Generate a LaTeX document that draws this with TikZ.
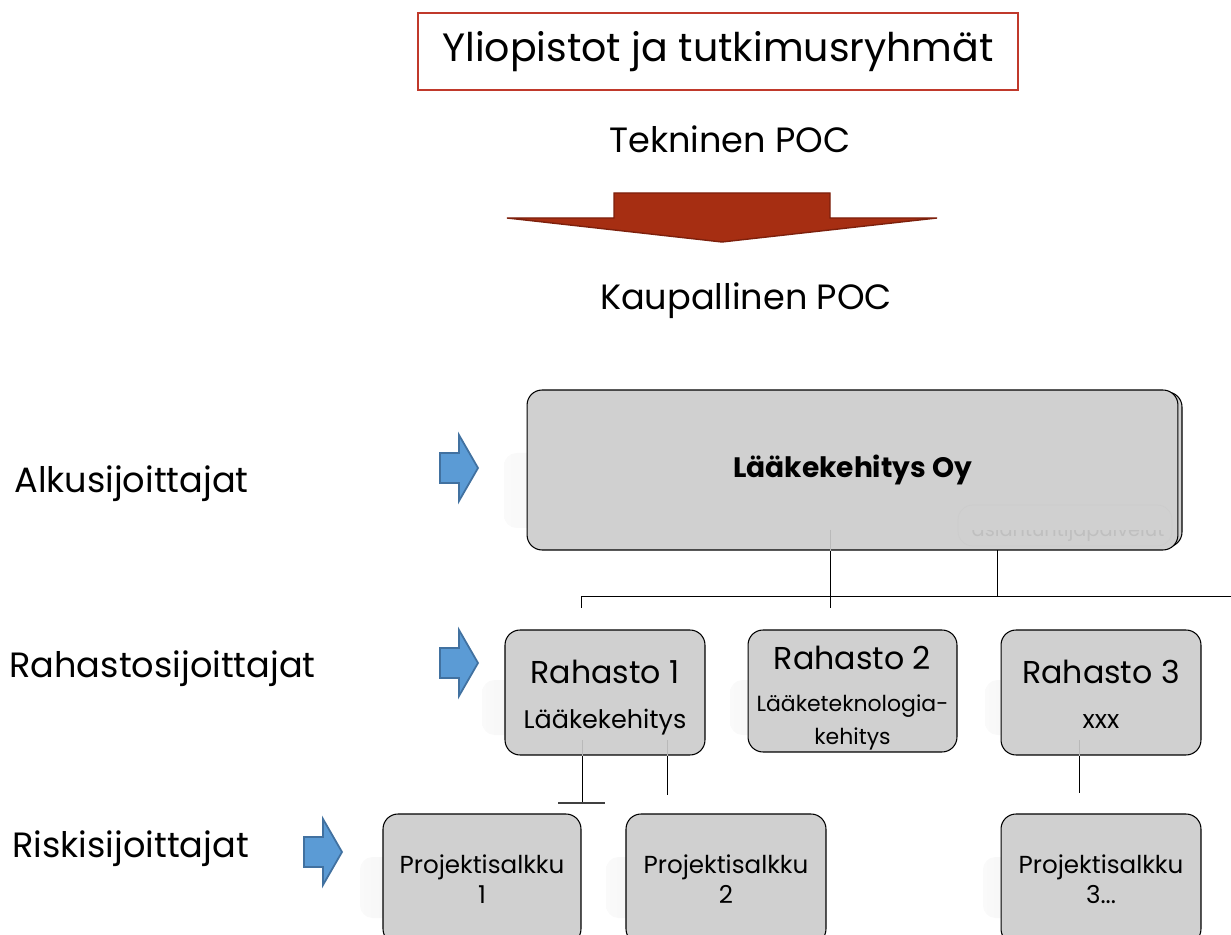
\documentclass[tikz,border=0pt]{standalone}
\usepackage{fontspec}
\setmainfont{Poppins}
\usetikzlibrary{positioning, calc}

\definecolor{boxgray}{RGB}{208,208,208}
\definecolor{titlered}{RGB}{192,57,43}
\definecolor{arrowred}{RGB}{166,46,18}
\definecolor{arrowedge}{RGB}{125,32,12}
\definecolor{arrowblue}{RGB}{91,155,213}
\definecolor{blueedge}{RGB}{65,113,160}

\begin{document}
\begin{tikzpicture}[x=0.02cm, y=-0.02cm,
  box/.style={draw, rounded corners=0.3cm, fill=boxgray, align=center, line width=0.6pt, inner sep=0pt},
  ghost/.style={rounded corners=0.25cm, left color=gray!4, right color=gray!24},
  bluearrow/.style={fill=arrowblue, draw=blueedge, line width=1pt},
  rarrow/.pic={\path[bluearrow] (0,-15) -- (19,-15) -- (19,-33) -- (38,0) -- (19,33) -- (19,15) -- (0,15) -- cycle;},
  lbl/.style={anchor=west, inner sep=0pt, font=\fontsize{20}{24}\selectfont},
  conn/.style={line width=0.5pt},
  faint/.style={line width=0.5pt, gray!55},
]
\useasboundingbox (0,0) rectangle (1231,935);
\clip (0,0) rectangle (1231,935);

% top part
\node[draw=titlered, line width=1.5pt, minimum width=12cm, minimum height=1.54cm, inner sep=0pt,
  font=\fontsize{22.5}{27}\selectfont] (yo) at (718,51.5) {Yliopistot ja tutkimusryhmät};
\node[font=\fontsize{20}{24}\selectfont, inner sep=0pt] (tek) at (730,139) {Tekninen POC};
\path[fill=arrowred, draw=arrowedge, line width=0.8pt]
  (507,218) -- (614,218) -- (614,193) -- (830,193) -- (830,218) -- (937,218) -- (722,242) -- cycle;
\node[font=\fontsize{20}{24}\selectfont, inner sep=0pt] (kaup) at (746,301) {Kaupallinen POC};

% left labels and arrows
\node[lbl] (alku) at (14,484) {Alkusijoittajat};
\node[lbl] (rahs) at (9,669) {Rahastosijoittajat};
\node[lbl] (risk) at (12,849) {Riskisijoittajat};
\pic at (440,468) {rarrow};
\pic at (440,663) {rarrow};
\pic at (304,852) {rarrow};

% shadows
\path[ghost] (504,453) rectangle (900,528);
\path[ghost] (482,680) rectangle (690,735);
\path[ghost] (730,680) rectangle (930,735);
\path[ghost] (985,680) rectangle (1180,735);
\path[ghost] (360,857) rectangle (560,918);
\path[ghost] (606,857) rectangle (800,918);
\path[ghost] (983,857) rectangle (1180,918);

% connectors
\coordinate (tapA) at (830,530); \coordinate (tapB) at (830,608);
\coordinate (tapC) at (997,550); \coordinate (busC) at (997,596);
\coordinate (busL) at (581,596); \coordinate (busR) at (1231,596); \coordinate (busD) at (581,608);
\coordinate (r1a) at (582,740); \coordinate (r1b) at (582,803);
\coordinate (capL) at (558,803); \coordinate (capR) at (605,803);
\coordinate (r1c) at (667,740); \coordinate (r1d) at (667,795);
\coordinate (r3a) at (1079,740); \coordinate (r3b) at (1079,793);
\draw[conn] (tapA) -- (tapB);
\draw[conn] (tapC) -- (busC);
\draw[conn] (busD) -- (busL) -- (busR);
\draw[conn] (r1a) -- (r1b);
\draw[line width=1.5pt, black!75] (capL) -- (capR);
\draw[conn] (r1c) -- (r1d);
\draw[conn] (r3a) -- (r3b);

% boxes
\draw[rounded corners=0.3cm, fill=boxgray, line width=0.6pt] (532,392) rectangle (1182,547);
\node[box, minimum width=13.02cm, minimum height=3.2cm, font=\bfseries\fontsize{16}{19}\selectfont] (oy) at (852.5,470) {Lääkekehitys Oy};
\begin{scope}
  \clip (950,531) rectangle (1180,552);
  \node[text=gray!50, font=\fontsize{11}{13}\selectfont] (asi) at (1068,532) {asiantuntijapalvelut};
\end{scope}
\draw[rounded corners=0.3cm, draw=gray!40] (958,505) rectangle (1172,546);

\node[box, minimum width=4cm, minimum height=2.5cm] (r1) at (605,692.5)
  {{\fontsize{18}{22}\selectfont Rahasto 1}\\[14pt]{\fontsize{14.5}{17}\selectfont Lääkekehitys}\\[-14pt]{}};
\node[box, minimum width=4.18cm, minimum height=2.44cm] (r2) at (852.5,691)
  {{\fontsize{18}{22}\selectfont Rahasto 2}\\[12pt]{\fontsize{12.5}{18}\selectfont Lääketeknologia-}\\[5pt]{\fontsize{12.5}{18}\selectfont kehitys}\\[-17pt]{}};
\node[box, minimum width=4cm, minimum height=2.5cm] (r3) at (1101,692.5)
  {{\fontsize{18}{22}\selectfont Rahasto 3}\\[14pt]{\fontsize{14.5}{17}\selectfont xxx}\\[-14pt]{}};

\node[box, minimum width=3.96cm, minimum height=2.6cm, font=\fontsize{14}{17}\selectfont] (p1) at (482,879) {Projektisalkku\\1};
\node[box, minimum width=4cm, minimum height=2.6cm, font=\fontsize{14}{17}\selectfont] (p2) at (726,879) {Projektisalkku\\2};
\node[box, minimum width=4cm, minimum height=2.6cm, font=\fontsize{14}{17}\selectfont] (p3) at (1101,879) {Projektisalkku\\3...};

% lines seen through the boxes
\draw[faint] (tapA) -- (tapA |- oy.south);
\draw[faint] (r1a) -- (r1a |- r1.south);
\draw[faint] (r1c) -- (r1c |- r1.south);
\draw[faint] (r3a) -- (r3a |- r3.south);
\end{tikzpicture}
\end{document}
